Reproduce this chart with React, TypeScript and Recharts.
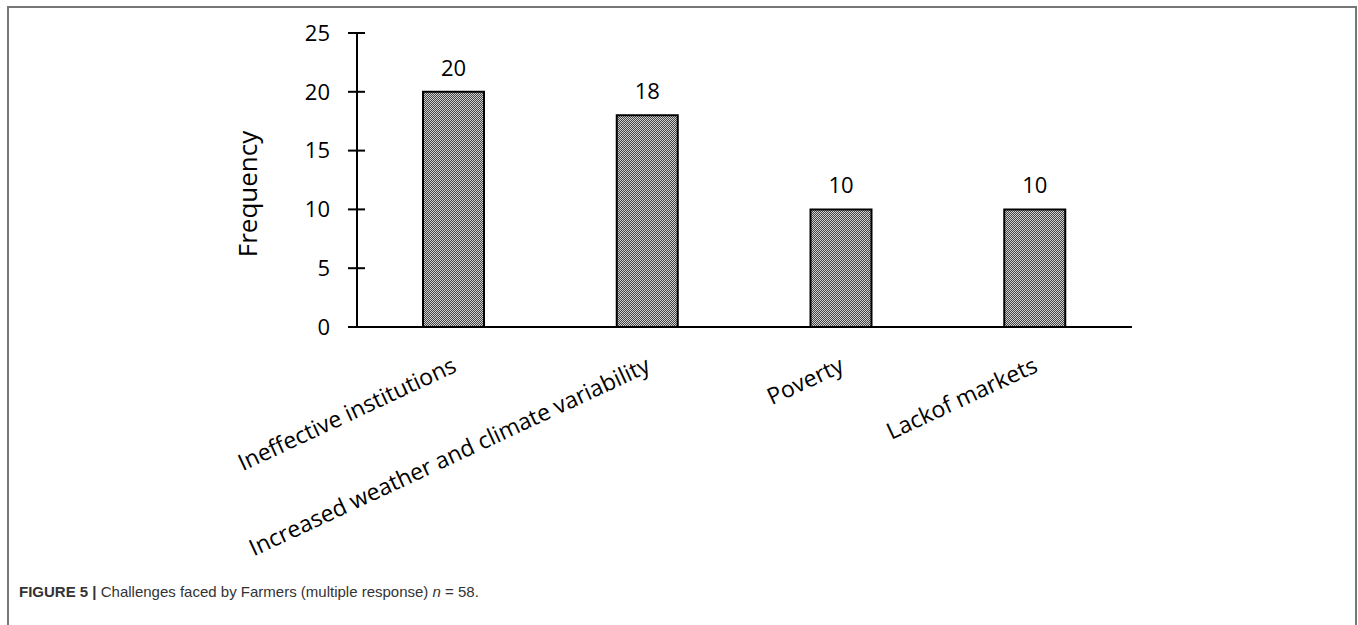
import React from 'react';
import { BarChart, Bar, XAxis, YAxis, LabelList } from 'recharts';

// Challenges faced by farmers, multiple response (n = 58)
const challenges = [
  'Ineffective institutions',
  'Increased weather and climate variability',
  'Poverty',
  'Lackof markets',
];
const frequencies = [20, 18, 10, 10];
const yTicks = [0, 5, 10, 15, 20, 25];

const chartData = challenges.map((name, i) => ({ name, frequency: frequencies[i] }));

const FONT = '"Open Sans", "Noto Sans", sans-serif';

function YTick({ x, y, payload }: any) {
  return (
    <g>
      <line x1={x - 9} y1={y} x2={x + 8} y2={y} stroke="#000" strokeWidth={2} />
      <text x={x - 27} y={y} dy="0.35em" textAnchor="end" fontSize={22} fontFamily={FONT} fill="#000">
        {payload.value}
      </text>
    </g>
  );
}

function XTick({ x, y, payload }: any) {
  const tx = x + 4;
  const ty = y + 44;
  return (
    <text
      x={tx}
      y={ty}
      textAnchor="end"
      transform={`rotate(-25 ${tx} ${ty})`}
      fontSize={23}
      fontFamily={FONT}
      fill="#000"
    >
      {payload.value}
    </text>
  );
}

function YLabel({ viewBox }: any) {
  const cx = viewBox.x - 49;
  const cy = viewBox.y + viewBox.height / 2 + 14;
  return (
    <text
      x={cx}
      y={cy}
      textAnchor="middle"
      dy="0.35em"
      transform={`rotate(-90 ${cx} ${cy})`}
      fontSize={26}
      fontFamily={FONT}
      fill="#000"
    >
      Frequency
    </text>
  );
}

export default function App() {
  return (
    <div
      style={{
        position: 'fixed',
        left: 7,
        top: 6,
        width: 1350,
        height: 619,
        borderTop: '2px solid #777',
        borderLeft: '2px solid #777',
        borderRight: '2px solid #777',
        boxSizing: 'border-box',
        overflow: 'hidden',
        background: '#fff',
      }}
    >
      <BarChart
        width={1340}
        height={560}
        data={chartData}
        margin={{ top: 25, right: 217, left: 288, bottom: 41 }}
        barSize={61}
      >
        <defs>
          <pattern id="dots" width={2} height={2} patternUnits="userSpaceOnUse">
            <rect width={2} height={2} fill="#d0d0d0" />
            <rect width={1} height={1} fill="#444" />
            <rect x={1} y={1} width={1} height={1} fill="#444" />
          </pattern>
        </defs>
        <XAxis
          dataKey="name"
          height={200}
          interval={0}
          tickSize={0}
          tickMargin={0}
          tickLine={false}
          axisLine={{ stroke: '#000', strokeWidth: 2 }}
          tick={<XTick />}
        />
        <YAxis
          width={60}
          domain={[0, 25]}
          ticks={yTicks}
          interval={0}
          tickSize={0}
          tickMargin={0}
          tickLine={false}
          axisLine={{ stroke: '#000', strokeWidth: 2 }}
          tick={<YTick />}
          label={<YLabel />}
        />
        <Bar dataKey="frequency" fill="url(#dots)" stroke="#000" strokeWidth={2} isAnimationActive={false}>
          <LabelList dataKey="frequency" position="top" offset={16} fontSize={22} fontFamily={FONT} fill="#000" />
        </Bar>
      </BarChart>
      <div
        style={{
          position: 'absolute',
          left: 10,
          top: 575,
          fontFamily: '"Liberation Sans", Arial, sans-serif',
          fontSize: 15,
          color: '#333',
        }}
      >
        <b>FIGURE 5 |</b> Challenges faced by Farmers (multiple response) <i>n</i> = 58.
      </div>
    </div>
  );
}
